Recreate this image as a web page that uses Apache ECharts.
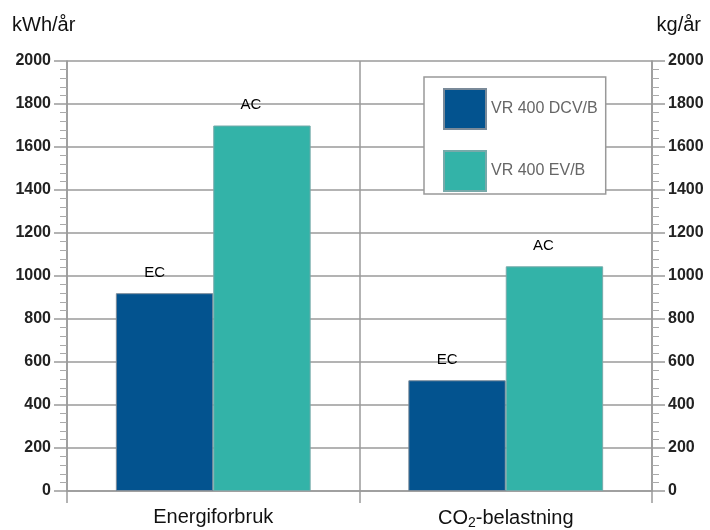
<!DOCTYPE html>
<html><head><meta charset="utf-8">
<script src="https://cdn.jsdelivr.net/npm/echarts@6/dist/echarts.min.js"></script>
<style>html,body{margin:0;padding:0;background:#fff}#c{width:710px;height:530px}</style>
</head><body><div id="c"></div>
<script>
const categories = ['Energiforbruk', 'CO2-belastning'];
const seriesNames = ['VR 400 DCV/B', 'VR 400 EV/B'];
const ecValues = [920, 515];
const acValues = [1700, 1045];
const barLabels = ['EC', 'AC'];
const leftUnit = 'kWh/år';
const rightUnit = 'kg/år';

const chart = echarts.init(document.getElementById('c'));
const font = 'Liberation Sans, Arial, sans-serif';
const gridColor = '#9a9a9a';
function yAxis(pos) {
  return {
    type: 'value', position: pos, min: 0, max: 2000, interval: 200,
    axisLine: {show: true, lineStyle: {color: gridColor, width: 1.5}},
    axisTick: {show: true, inside: false, length: 13, lineStyle: {color: gridColor, width: 1.5}},
    minorTick: {show: true, splitNumber: 5, length: 7, lineStyle: {color: '#aaa', width: 1}},
    axisLabel: {color: '#222', fontSize: 16, fontWeight: 'bold', fontFamily: font, margin: 16,
                formatter: v => String(v)},
    splitLine: {show: pos === 'left', lineStyle: {color: gridColor, width: 1.5}}
  };
}
chart.setOption({
  animation: false,
  backgroundColor: '#fff',
  grid: {left: 67, right: 58, top: 61, bottom: 39},
  xAxis: {
    type: 'category', data: categories, boundaryGap: true,
    axisLine: {show: true, lineStyle: {color: gridColor, width: 1.5}},
    axisTick: {show: true, length: 12, lineStyle: {color: gridColor, width: 1.5}},
    axisLabel: {color: '#111', fontSize: 20, fontFamily: font, margin: 16,
      formatter: v => v.indexOf('CO2') === 0 ? 'CO{sub|2}' + v.slice(3) : v,
      rich: {sub: {fontSize: 14, fontFamily: font, color: '#111', padding: [9, 0, 0, 0]}}},
    splitLine: {show: true, lineStyle: {color: gridColor, width: 1.5}}
  },
  yAxis: [yAxis('left'), yAxis('right')],
  legend: {
    orient: 'vertical', left: 424, top: 77,
    padding: [11, 8, 2, 19], itemWidth: 42, itemHeight: 40, itemGap: 20,
    backgroundColor: '#fff', borderColor: '#999', borderWidth: 1.5,
    textStyle: {color: '#666', fontSize: 16, fontFamily: font},
    icon: 'rect', data: seriesNames
  },
  graphic: [
    {type: 'text', left: 12, top: 15, style: {text: leftUnit, font: '20px ' + font, fill: '#111'}},
    {type: 'text', right: 9, top: 15, style: {text: rightUnit, font: '20px ' + font, fill: '#111'}}
  ],
  series: [
    {name: seriesNames[0], type: 'bar', data: ecValues, barWidth: '33.3%', barGap: '0%',
     itemStyle: {color: '#03538f', borderColor: '#7a8a99', borderWidth: 1},
     label: {show: true, position: 'top', distance: 13, offset: [-10, 0], formatter: barLabels[0], color: '#000', fontSize: 15, fontFamily: font}},
    {name: seriesNames[1], type: 'bar', data: acValues, barWidth: '33.3%', barGap: '0%',
     itemStyle: {color: '#33b3a8', borderColor: '#7aa', borderWidth: 1},
     label: {show: true, position: 'top', distance: 13, offset: [-11, 0], formatter: barLabels[1], color: '#000', fontSize: 15, fontFamily: font}}
  ]
});
</script></body></html>
